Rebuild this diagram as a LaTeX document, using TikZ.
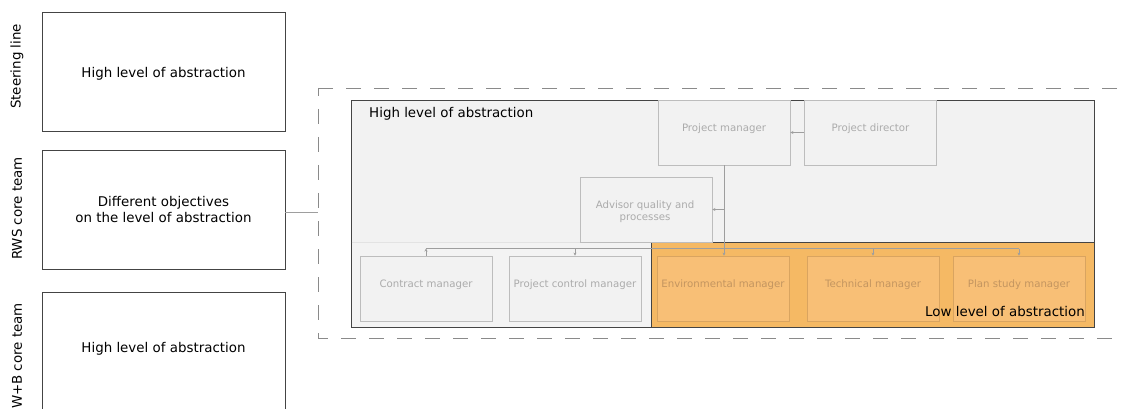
\documentclass[tikz,border=0pt]{standalone}
\usepackage{fontspec}
\setmainfont{DejaVu Sans}
\usetikzlibrary{arrows.meta}

\definecolor{framegray}{HTML}{444444}
\definecolor{panelgray}{HTML}{F2F2F2}
\definecolor{panelorange}{HTML}{F5B964}
\definecolor{cardorange}{HTML}{F8BF76}
\definecolor{cardorangeline}{HTML}{D9A460}
\definecolor{cardline}{HTML}{BDBDBD}
\definecolor{cardtext}{HTML}{ABABAB}
\definecolor{cardotext}{HTML}{C39560}
\definecolor{dashgray}{HTML}{8A8A8A}
\definecolor{linkgray}{HTML}{9E9E9E}

\tikzset{
  rolebox/.style={draw=framegray, line width=0.8pt, fill=white,
    minimum width=243pt, minimum height=119pt, inner sep=0pt,
    font=\fontsize{13.4}{16.5}\selectfont, align=center},
  sidelabel/.style={rotate=90, font=\fontsize{13.4}{16}\selectfont, inner sep=0pt},
  card/.style={draw=cardline, line width=0.8pt, fill=panelgray,
    minimum width=132pt, minimum height=65pt, inner sep=0pt},
  ocard/.style={card, draw=cardorangeline, fill=cardorange},
  cardlabel/.style={font=\fontsize{10.2}{12.5}\selectfont, text=cardtext, align=center, inner sep=0pt},
  ocardlabel/.style={cardlabel, text=cardotext},
  headlabel/.style={font=\fontsize{13.4}{16}\selectfont, inner sep=0pt},
  link/.style={draw=linkgray, line width=0.7pt},
  arrowlink/.style={link, -{Stealth[length=3pt,width=3pt]}},
}

\begin{document}
\begin{tikzpicture}[x=1pt, y=-1pt]
\useasboundingbox (0,0) rectangle (1125,409);

% left column: three teams
\node[rolebox] (steer) at (163.5,71.5) {};
\node[rolebox] (rws) at (163.5,209.5) {Different objectives\\on the level of abstraction};
\node[rolebox] (wb) at (163.5,351.5) {};
\node[headlabel] (steertxt) at (163.5,73.5) {High level of abstraction};
\node[headlabel] (wbtxt) at (163.5,348.5) {High level of abstraction};

\node[sidelabel] (steerlbl) at (17,66.5) {Steering line};
\node[sidelabel] (rwslbl) at (17,208.5) {RWS core team};
\node[sidelabel] (wblbl) at (17,356) {W+B core team};

% dashed frame around the organisation chart
\draw[dashgray, line width=0.9pt, dash pattern=on 15pt off 13pt, dash phase=7pt]
  (318,88) rectangle (1150,338);
\coordinate (frameleft) at (318,212);
\draw[link] (frameleft -| rws.east) -- (frameleft);

% panels
\node[draw=framegray, line width=0.8pt, fill=panelgray, minimum width=743pt,
  minimum height=227pt, inner sep=0pt] (high) at (722.5,213.5) {};
\fill[white, opacity=0.12] (351.5,242.5) rectangle (651,326.5);
\draw[panelgray!94!black, line width=0.4pt] (351.5,242.5) -- (651,242.5);
\node[draw=framegray, line width=0.8pt, fill=panelorange, minimum width=443pt,
  minimum height=85pt, inner sep=0pt] (low) at (872.5,284.5) {};

% role cards
\node[card] (pm) at (724,132.5) {};
\node[card] (pd) at (870.5,132.5) {};
\node[card] (adv) at (646,209.5) {};
\node[card] (cm) at (426,288.5) {};
\node[card] (pc) at (575,288.5) {};
\node[ocard] (env) at (723,288.5) {};
\node[ocard] (tech) at (873,288.5) {};
\node[ocard] (plan) at (1019,288.5) {};

\node[cardlabel] (pmtxt) at (724,128.5) {Project manager};
\node[cardlabel] (pdtxt) at (870.5,128.5) {Project director};
\node[cardlabel] (advtxt) at (645,211.5) {Advisor quality and\\processes};
\node[cardlabel] (cmtxt) at (426,285) {Contract manager};
\node[cardlabel] (pctxt) at (575,285) {Project control manager};
\node[ocardlabel] (envtxt) at (723,285) {Environmental manager};
\node[ocardlabel] (techtxt) at (873,285) {Technical manager};
\node[ocardlabel] (plantxt) at (1019,285) {Plan study manager};

% panel titles, on top of the cards
\node[headlabel, anchor=base west] (hightxt) at (369,118) {High level of abstraction};
\node[headlabel, anchor=base east] (lowtxt) at (1085,316.5) {Low level of abstraction};

% reporting lines
\draw[arrowlink] (pd.west) -- (pm.east);
\draw[arrowlink] (pm.south) -- (pm.south |- env.north);
\coordinate (advjoin) at (pm.south |- adv.east);
\draw[arrowlink] (advjoin) -- (adv.east);
\coordinate (bus) at (724,248.5);
\draw[link] (cm.north |- bus) -- (plan.north |- bus);
\draw[arrowlink] (cm.north) -- (cm.north |- bus);
\draw[arrowlink] (pc.north |- bus) -- (pc.north);
\draw[arrowlink] (tech.north |- bus) -- (tech.north);
\draw[arrowlink] (plan.north |- bus) -- (plan.north);
\end{tikzpicture}
\end{document}
